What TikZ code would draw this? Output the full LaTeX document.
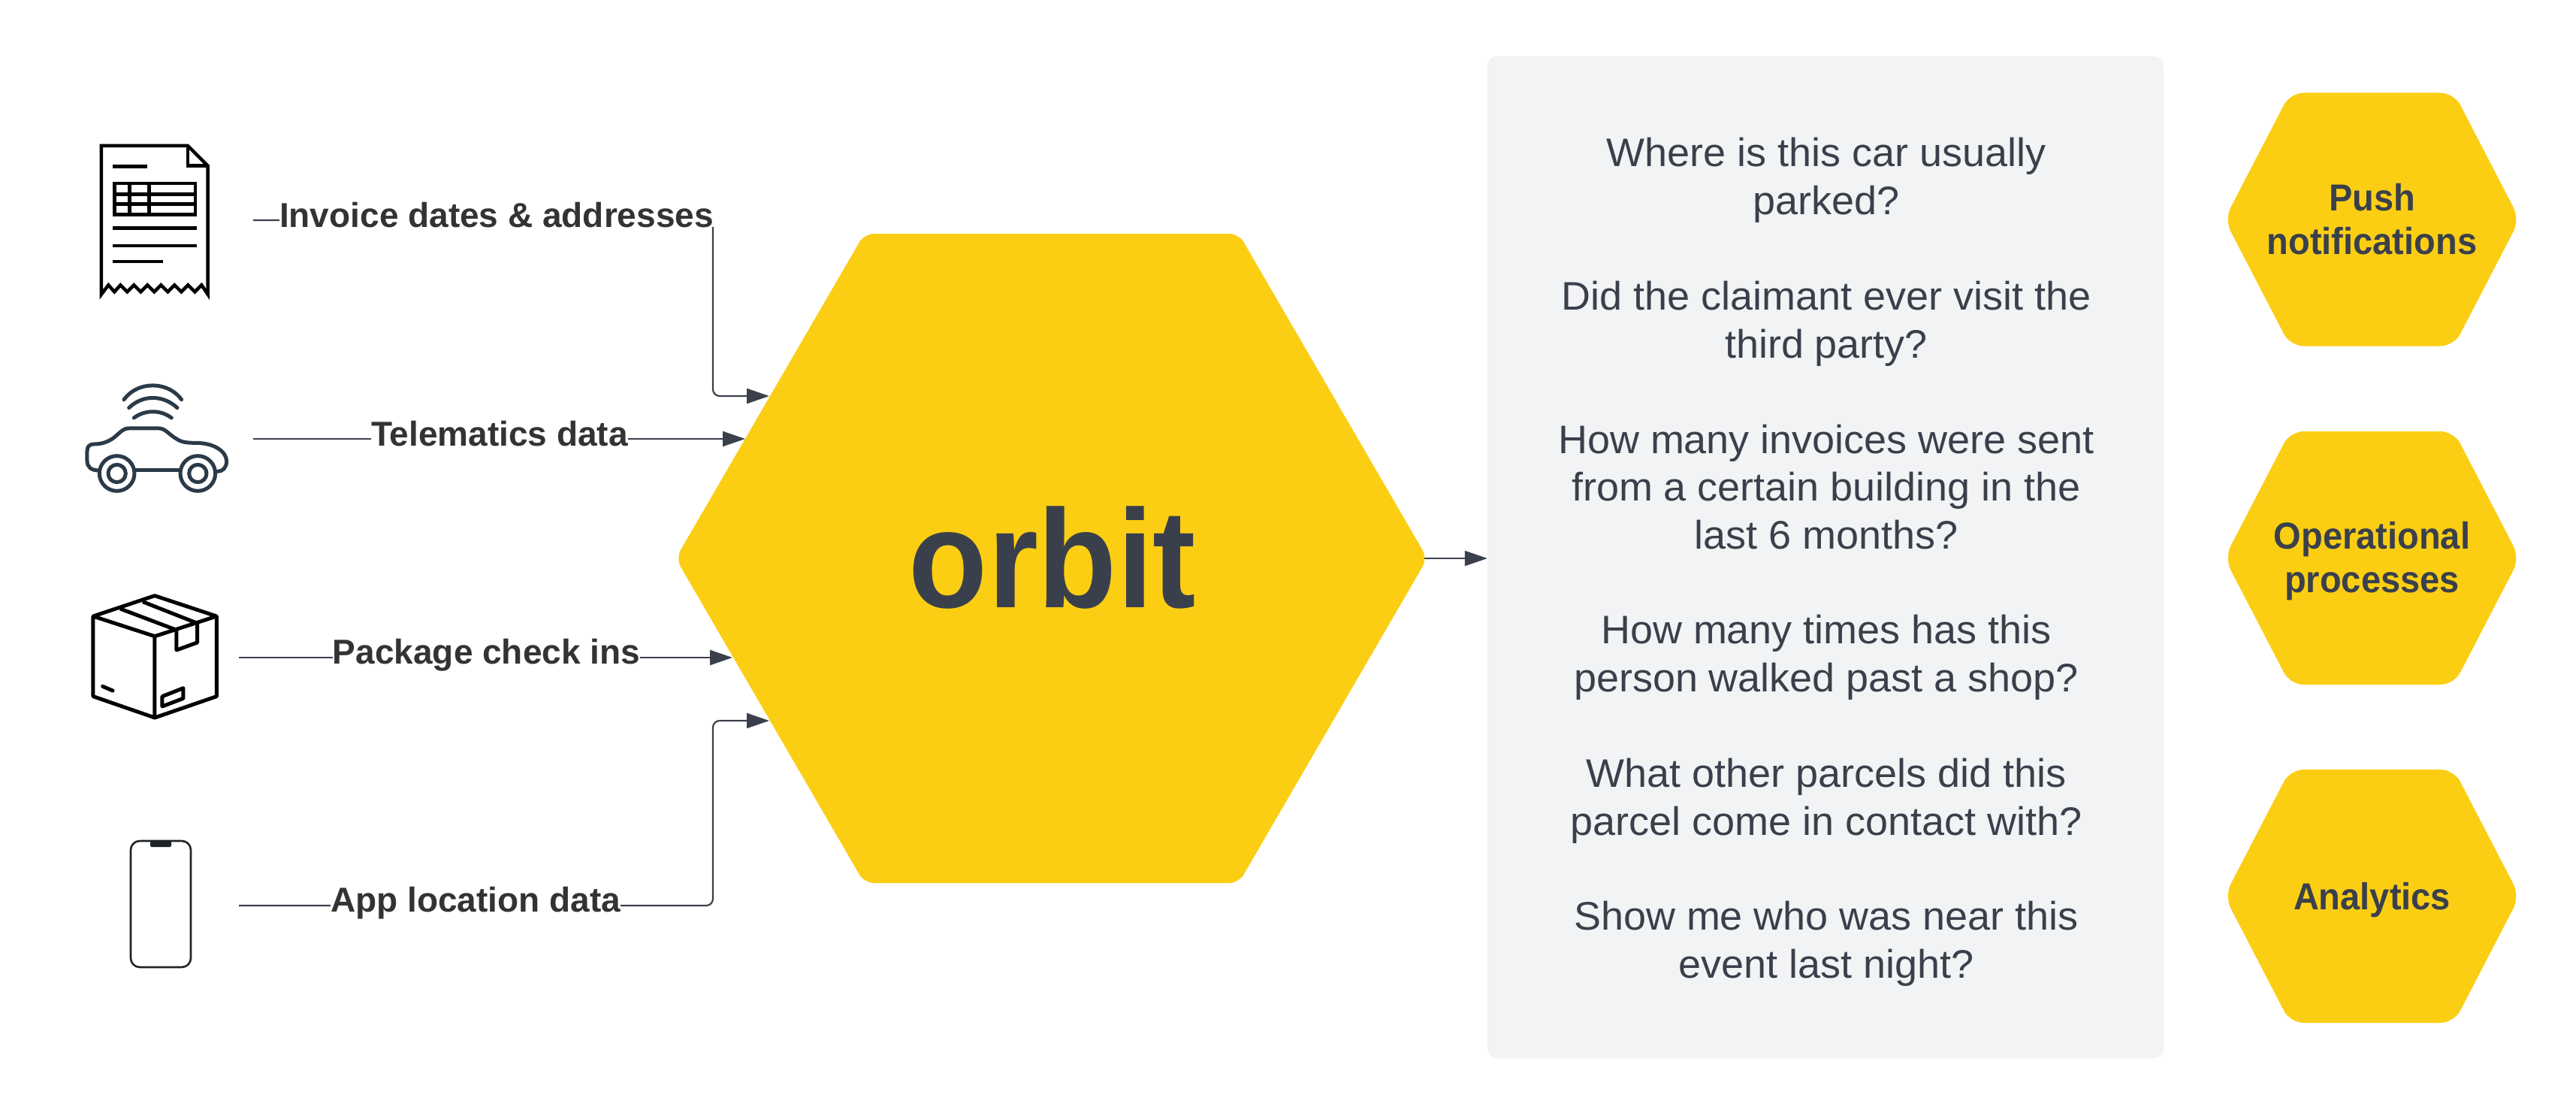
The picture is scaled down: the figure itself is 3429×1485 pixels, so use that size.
\documentclass[tikz,border=0pt]{standalone}
\usepackage{fontspec}
\setmainfont{Liberation Sans}
\usetikzlibrary{arrows.meta}
\definecolor{hexyellow}{HTML}{FBCE14}
\definecolor{inkgray}{HTML}{3A404B}
\definecolor{panelgray}{HTML}{F2F3F5}
\definecolor{labelink}{HTML}{333333}
\definecolor{carink}{HTML}{2B3A48}
\definecolor{phoneink}{HTML}{1F2328}
\tikzset{
  hexfill/.style={fill=hexyellow},
  conn/.style={draw=inkgray,line width=2.2pt,rounded corners=9pt},
  arrowed/.style={-{Triangle[length=30pt,width=20pt]}},
  srclabel/.style={anchor=base,fill=white,inner xsep=0pt,inner ysep=0pt,text=labelink,font=\fontsize{46}{52}\selectfont\bfseries},
  question/.style={anchor=base,inner sep=0pt,align=center,text=inkgray,xscale=1.018,font=\fontsize{53}{63.5}\selectfont},
  hexlabel/.style={anchor=base,inner sep=0pt,align=center,text=inkgray,xscale=0.94,font=\fontsize{50}{58}\selectfont\bfseries},
  iconline/.style={draw=black,line width=4.5pt,line join=miter},
  boxline/.style={draw=black,line width=5pt,line join=round},
  carline/.style={draw=carink,line width=5pt,line cap=round,line join=round},
}
\newcommand{\sidehex}[1]{\begin{scope}[shift={(0,#1)}]
  \fill[hexfill,rounded corners=18pt] (3048.5,-168.5) -- (3266.5,-168.5) -- (3354,0) -- (3266.5,168.5) -- (3048.5,168.5) -- (2961,0) -- cycle;
\end{scope}}
\begin{document}
\begin{tikzpicture}[x=1pt,y=-1pt]
\useasboundingbox (0,0) rectangle (3429,1485);
\fill[white] (0,0) rectangle (3429,1485);

% main hexagon
\fill[hexfill,rounded corners=13pt] (1150.5,311) -- (1649,311) -- (1900,743) -- (1649,1175) -- (1150.5,1175) -- (899.5,743) -- cycle;
\node[anchor=base,inner sep=0pt,text=inkgray,font=\fontsize{186}{190}\selectfont\bfseries,xscale=0.925] (orbit) at (1401,808) {orbit};

% panel
\node[fill=panelgray,rounded corners=12pt,minimum width=900pt,minimum height=1333pt,inner sep=0pt] (panel) at (2430,741.5) {};
\node[question] (q1) at (2431,285) {Where is this car usually\\parked?};
\node[question] (q2) at (2431,476) {Did the claimant ever visit the\\third party?};
\node[question] (q3) at (2431,730) {How many invoices were sent\\from a certain building in the\\last 6 months?};
\node[question] (q4) at (2431,920) {How many times has this\\person walked past a shop?};
\node[question] (q5) at (2431,1111) {What other parcels did this\\parcel come in contact with?};
\node[question] (q6) at (2431,1301) {Show me who was near this\\event last night?};

% side hexagons
\sidehex{292}
\sidehex{742.5}
\sidehex{1192.5}
\node[hexlabel] (push) at (3157.5,338) {Push\\notifications};
\node[hexlabel] (oper) at (3157.5,788) {Operational\\processes};
\node[hexlabel] (anal) at (3157.5,1210) {Analytics};

% connector anchors
\coordinate (sInv) at (337,293);
\coordinate (sTel) at (337,584);
\coordinate (sPkg) at (318,875);
\coordinate (sApp) at (318,1205);
\coordinate (bus) at (949,0);
\coordinate (tInv) at (1024,527);
\coordinate (tTel) at (992,584);
\coordinate (tPkg) at (975,875);
\coordinate (tApp) at (1024,959);
\coordinate (hexR) at (1896,743);

\draw[conn,arrowed] (sInv) -- (sInv -| bus) -- (bus |- tInv) -- (tInv);
\draw[conn,arrowed] (sTel) -- (tTel);
\draw[conn,arrowed] (sPkg) -- (tPkg);
\draw[conn,arrowed] (sApp) -- (sApp -| bus) -- (bus |- tApp) -- (tApp);
\draw[conn,arrowed] (hexR) -- (hexR -| panel.west);

\node[srclabel] (lInv) at (661,302) {Invoice dates \& addresses};
\node[srclabel] (lTel) at (665,593) {Telematics data};
\node[srclabel] (lPkg) at (647.5,883) {Package check ins};
\node[srclabel] (lApp) at (633,1213) {App location data};

% receipt icon
\begin{scope}[shift={(100,170)},x=0.3333pt,y=-0.3333pt]
  \draw[iconline] (105,665) -- (105,72) -- (450,72) -- (530,152) -- (530,665)
    -- (505,628) -- (478,655) -- (451,628) -- (424,655) -- (397,628) -- (370,655) -- (343,628) -- (316,655) -- (289,628) -- (262,655) -- (235,628) -- (208,655) -- (181,628) -- (157,655) -- (133,628) -- cycle;
  \draw[iconline] (450,72) -- (450,152) -- (530,152);
  \draw[iconline] (150,155) -- (288,155);
  \draw[iconline] (157,222) rectangle (480,347);
  \draw[iconline] (218,222) -- (218,347) (295,222) -- (295,347) (157,265) -- (480,265) (157,305) -- (480,305);
  \draw[iconline] (150,400) -- (485,400) (150,471) -- (485,471) (150,534) -- (350,534);
\end{scope}

% car icon
\begin{scope}[shift={(90,490)},x=0.3333pt,y=-0.3333pt]
  \draw[carline] (125,408) .. controls (95,408) and (78,395) .. (78,370) -- (78,330) .. controls (78,312) and (88,303) .. (105,303) .. controls (135,303) and (160,295) .. (185,277) .. controls (215,252) and (222,240) .. (245,240) -- (365,240) .. controls (390,240) and (405,265) .. (435,282) .. controls (455,295) and (475,298) .. (510,298) .. controls (590,298) and (635,335) .. (635,372) .. controls (635,395) and (620,412) .. (600,412);
  \draw[carline] (270,408) -- (450,408);
  \draw[carline] (197,420) circle[radius=70];
  \draw[carline] (520,420) circle[radius=70];
  \draw[carline] (197,420) circle[radius=35];
  \draw[carline] (520,420) circle[radius=35];
  \draw[carline] (225,125) .. controls (280,50) and (400,50) .. (455,125);
  \draw[carline] (245,158) .. controls (300,105) and (380,105) .. (438,158);
  \draw[carline] (265,198) .. controls (310,165) and (370,165) .. (415,198);
\end{scope}

% package icon
\begin{scope}[shift={(100,770)},x=0.3333pt,y=-0.3333pt]
  \draw[boxline] (318,68) -- (565,150) -- (565,470) -- (318,555) -- (72,470) -- (72,150) -- cycle;
  \draw[boxline] (72,150) -- (318,230) -- (565,150) (318,230) -- (318,555);
  \draw[boxline] (180,120) -- (405,205) (270,92) -- (488,178);
  \draw[boxline] (405,205) -- (405,285) -- (488,255) -- (488,178);
  \draw[boxline] (348,470) -- (432,437) -- (432,478) -- (348,510) -- cycle;
  \draw[boxline,line cap=round] (110,430) -- (150,447);
\end{scope}

% phone icon
\draw[draw=phoneink,line width=2.6pt,rounded corners=12pt] (174,1119) rectangle (254,1287);
\fill[phoneink,rounded corners=2pt] (200,1119) -- (228,1119) -- (228,1127) -- (200,1127) -- cycle;
\end{tikzpicture}
\end{document}
